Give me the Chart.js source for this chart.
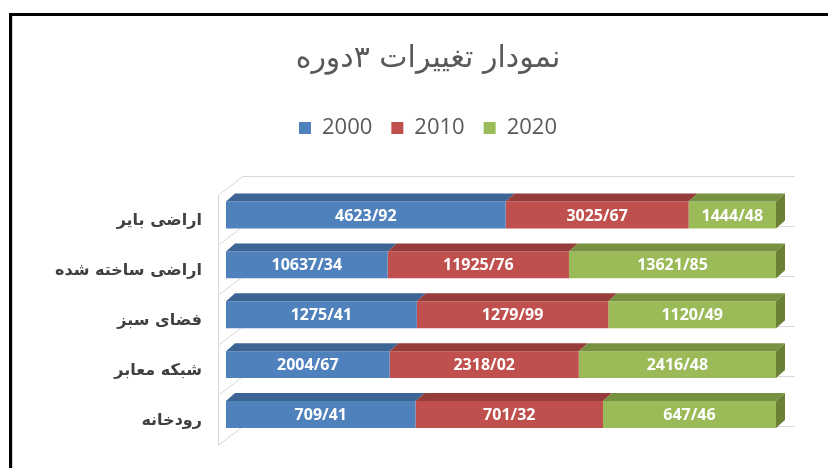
<!DOCTYPE html>
<html>
<head>
<meta charset="utf-8">
<script src="https://cdn.jsdelivr.net/npm/chart.js@4.4.1/dist/chart.umd.min.js"></script>
<style>
    html, body { margin: 0; padding: 0; background: #ffffff; }
    #wrap { width: 828px; height: 468px; }
</style>
</head>
<body>
<div id="wrap"><canvas id="chart" width="828" height="468"></canvas></div>
<script>
const categories = ['اراضی بایر', 'اراضی ساخته شده', 'فضای سبز', 'شبکه معابر', 'رودخانه'];
const seriesNames = ['2000', '2010', '2020'];
const values2000 = [4623.92, 10637.34, 1275.41, 2004.67, 709.41];
const values2010 = [3025.67, 11925.76, 1279.99, 2318.02, 701.32];
const values2020 = [1444.48, 13621.85, 1120.49, 2416.48, 647.46];

const frontColors = ['#4f81bd', '#c0504d', '#9bbb59'];
const topColors = ['#3c6596', '#963c3a', '#76913f'];
const sideColor = '#6a8135';

const DEPTH_X = 9;
const DEPTH_Y = -8;

const rawSeries = [values2000, values2010, values2020];

// 100% stacked: each category is shown as its share of the row total
const totals = categories.map((c, i) => rawSeries.reduce((s, arr) => s + arr[i], 0));
const percentSeries = rawSeries.map(arr => arr.map((v, i) => v / totals[i] * 100));

function formatValue(v) {
    return v.toFixed(2).replace('.', '/');
}

// frame + 3D walls behind the bars
const wallsPlugin = {
    id: 'walls',
    beforeDraw(chart) {
        const ctx = chart.ctx;
        ctx.save();
        ctx.fillStyle = '#ffffff';
        ctx.fillRect(0, 0, chart.width, chart.height);
        ctx.fillStyle = '#000000';
        ctx.fillRect(9, 13, chart.width - 9, 3);
        ctx.fillRect(9, 13, 3, chart.height - 13);
        ctx.fillStyle = '#d0d0d0';
        ctx.fillRect(12, 16, 1, chart.height - 16);
        ctx.restore();
    },
    beforeDatasetsDraw(chart) {
        const ctx = chart.ctx;
        const area = chart.chartArea;
        const n = categories.length;
        const band = (area.bottom - area.top) / n;
        const frontX = area.left - 8;
        const backX = area.left + 17;
        const backRight = area.right + 19;
        ctx.save();
        ctx.strokeStyle = '#d9d9d9';
        ctx.lineWidth = 1;
        ctx.beginPath();
        ctx.moveTo(frontX + 0.5, area.top + 5.5);
        ctx.lineTo(frontX + 0.5, area.bottom + 5.5);
        for (let k = 0; k <= n; k++) {
            const yb = Math.round(area.top + band * k);
            ctx.moveTo(frontX, yb + 5.5);
            ctx.lineTo(backX, yb - 13.5);
            ctx.lineTo(backRight, yb - 13.5);
        }
        ctx.stroke();

        // category names, right aligned next to the side wall
        // (drawn here because the scale clips its labels to its own box)
        const yScale = chart.scales.y;
        ctx.font = 'bold 16px "DejaVu Sans"';
        ctx.fillStyle = '#404040';
        ctx.textAlign = 'right';
        ctx.textBaseline = 'middle';
        categories.forEach((name, i) => {
            ctx.fillText(name, area.left - 24, yScale.getPixelForValue(i) + 6);
        });
        ctx.restore();
    }
};

// top and side faces of the 3D bars, plus the value labels
const barFacesPlugin = {
    id: 'barFaces',
    afterDatasetsDraw(chart) {
        const ctx = chart.ctx;
        const last = chart.data.datasets.length - 1;
        ctx.save();
        chart.data.datasets.forEach((ds, di) => {
            const meta = chart.getDatasetMeta(di);
            meta.data.forEach((bar) => {
                const p = bar.getProps(['x', 'y', 'base', 'height'], true);
                const x1 = Math.min(p.x, p.base);
                const x2 = Math.max(p.x, p.base);
                const top = p.y - p.height / 2;
                const bottom = p.y + p.height / 2;

                ctx.fillStyle = topColors[di];
                ctx.beginPath();
                ctx.moveTo(x1, top);
                ctx.lineTo(x1 + DEPTH_X, top + DEPTH_Y);
                ctx.lineTo(x2 + DEPTH_X, top + DEPTH_Y);
                ctx.lineTo(x2, top);
                ctx.closePath();
                ctx.fill();

                if (di === last) {
                    ctx.fillStyle = sideColor;
                    ctx.beginPath();
                    ctx.moveTo(x2, top);
                    ctx.lineTo(x2 + DEPTH_X, top + DEPTH_Y);
                    ctx.lineTo(x2 + DEPTH_X, bottom + DEPTH_Y);
                    ctx.lineTo(x2, bottom);
                    ctx.closePath();
                    ctx.fill();
                }
            });
        });

        ctx.font = 'bold 16px "Open Sans"';
        ctx.fillStyle = '#ffffff';
        ctx.textAlign = 'center';
        ctx.textBaseline = 'middle';
        chart.data.datasets.forEach((ds, di) => {
            const meta = chart.getDatasetMeta(di);
            meta.data.forEach((bar, i) => {
                const p = bar.getProps(['x', 'y', 'base'], true);
                ctx.fillText(formatValue(rawSeries[di][i]), (p.x + p.base) / 2, p.y + 1);
            });
        });
        ctx.restore();
    }
};

const datasets = seriesNames.map((name, i) => ({
    label: name,
    data: percentSeries[i],
    backgroundColor: frontColors[i],
    borderWidth: 0,
    barPercentage: 0.54,
    categoryPercentage: 1
}));

new Chart(document.getElementById('chart'), {
    type: 'bar',
    data: {
        labels: categories,
        datasets: datasets
    },
    options: {
        indexAxis: 'y',
        responsive: false,
        animation: false,
        layout: {
            padding: { left: 80, right: 52, top: 15, bottom: 28.5 }
        },
        scales: {
            x: {
                position: 'top',
                stacked: true,
                min: 0,
                max: 100,
                ticks: { display: false },
                grid: { display: false, drawTicks: false },
                border: { display: false },
                afterFit(scale) {
                    scale.height = 41;
                }
            },
            y: {
                stacked: true,
                ticks: { display: false },
                grid: { display: false, drawTicks: false },
                border: { display: false },
                afterFit(scale) {
                    scale.width = 146;
                }
            }
        },
        plugins: {
            title: {
                display: true,
                text: 'نمودار تغییرات ۳دوره',
                color: '#595959',
                font: { family: 'DejaVu Sans', size: 30, weight: 'normal' },
                padding: { top: 26, bottom: 21 }
            },
            legend: {
                display: true,
                position: 'top',
                labels: {
                    color: '#595959',
                    boxWidth: 12,
                    boxHeight: 12,
                    padding: 19,
                    font: { family: 'Open Sans', size: 22 }
                }
            },
            tooltip: { enabled: false }
        }
    },
    plugins: [wallsPlugin, barFacesPlugin]
});
</script>
</body>
</html>
